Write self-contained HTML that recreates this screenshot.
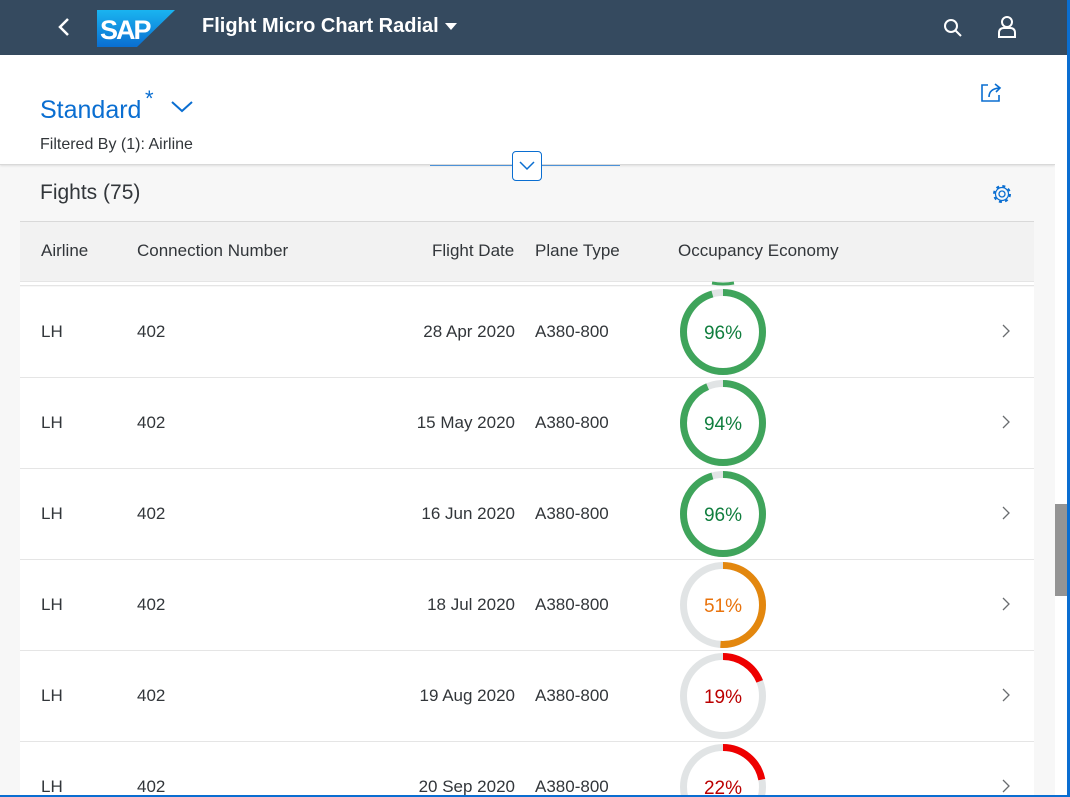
<!DOCTYPE html>
<html style="width:1070px;height:797px;overflow:hidden"><head><meta charset="utf-8"><style>
*{margin:0;padding:0;box-sizing:border-box}
body{width:1070px;height:797px;overflow:hidden;background:#f7f7f7;font-family:"Liberation Sans",sans-serif;position:relative}
.a{position:absolute}
.hdr{left:0;top:0;width:1070px;height:55px;background:#354a5f}
.t{font-size:17px;color:#32363a}
.row{position:absolute;left:20px;width:1014px;height:91px;background:#fff;border-bottom:1px solid #e5e5e5}
.row span{position:absolute;top:35px;font-size:17px;color:#32363a}
</style></head><body>
<div class="a hdr"></div>
<svg class="a" style="left:55px;top:16px" width="16" height="22"><path d="M13 3 L5 11 L13 19" stroke="#fff" stroke-width="2.5" fill="none"/></svg>
<svg class="a" style="left:97px;top:10px" width="78" height="37"><defs><linearGradient id="g" x1="0" y1="0" x2="0" y2="1"><stop offset="0" stop-color="#1ab4f0"/><stop offset="1" stop-color="#0a6ed1"/></linearGradient></defs><polygon points="0,0 78,0 40,37 0,37" fill="url(#g)"/><text x="3" y="29" font-family="Liberation Sans" font-weight="bold" font-size="27" fill="#fff" letter-spacing="-2">SAP</text></svg>
<div class="a" style="left:202px;top:15px;color:#fff;font-size:20px;font-weight:bold">Flight Micro Chart Radial</div>
<svg class="a" style="left:444px;top:22px" width="14" height="10"><polygon points="1,1 13,1 7,8" fill="#fff"/></svg>
<svg class="a" style="left:942px;top:17px" width="22" height="22"><circle cx="9" cy="9" r="6" stroke="#fff" stroke-width="2" fill="none"/><line x1="13.5" y1="13.5" x2="19" y2="19" stroke="#fff" stroke-width="2"/></svg>
<svg class="a" style="left:996px;top:15px" width="22" height="24"><circle cx="11" cy="7" r="5" stroke="#fff" stroke-width="2" fill="none"/><path d="M3 22 V18 Q3 13 8 13 H14 Q19 13 19 18 V22 Z" stroke="#fff" stroke-width="2" fill="none"/></svg>
<div class="a" style="left:0;top:55px;width:1055px;height:110px;background:#fff;border-bottom:1px solid #d9d9d9;box-shadow:0 1px 2px rgba(0,0,0,.1)"></div>
<div class="a" style="left:40px;top:96px;font-size:25px;color:#0a6ed1">Standard</div>
<div class="a" style="left:145px;top:86px;font-size:22px;color:#0a6ed1">*</div>
<svg class="a" style="left:170px;top:100px" width="24" height="14"><path d="M2 2 L12 11 L22 2" stroke="#0a6ed1" stroke-width="2" fill="none"/></svg>
<div class="a" style="left:40px;top:136px;font-size:16px;color:#32363a">Filtered By (1): Airline</div>
<svg class="a" style="left:980px;top:81px" width="24" height="22"><path d="M8 4 H2 V20 H19 V14" stroke="#0a6ed1" stroke-width="1.6" fill="none"/><path d="M9 16 Q9 8 19 7 M15 3 L20 7 L16 11" stroke="#0a6ed1" stroke-width="1.6" fill="none"/></svg>
<div class="a" style="left:430px;top:165px;width:190px;height:1px;background:#0a6ed1;opacity:.7"></div>
<div class="a" style="left:512px;top:151px;width:30px;height:30px;background:#fff;border:1px solid #0a6ed1;border-radius:4px"></div>
<svg class="a" style="left:518px;top:160px" width="18" height="12"><path d="M2 2 L9 9 L16 2" stroke="#0a6ed1" stroke-width="1.5" fill="none"/></svg>
<div class="a" style="left:40px;top:181px;font-size:21px;color:#32363a">Fights (75)</div>
<svg class="a" style="left:991px;top:183px" width="22" height="22"><circle cx="11" cy="11" r="3" stroke="#0a6ed1" stroke-width="1.3" fill="none"/><circle cx="11" cy="11" r="8" stroke="#0a6ed1" stroke-width="2" fill="none" stroke-dasharray="3 3.3"/><circle cx="11" cy="11" r="6.5" stroke="#0a6ed1" stroke-width="1.2" fill="none"/></svg>
<div class="a" style="left:20px;top:221px;width:1014px;height:61px;background:#f2f2f2;border-top:1px solid #d9d9d9;border-bottom:1px solid #e5e5e5"></div>
<div class="a t" style="left:41px;top:241px">Airline</div>
<div class="a t" style="left:137px;top:241px">Connection Number</div>
<div class="a t" style="left:432px;top:241px">Flight Date</div>
<div class="a t" style="left:535px;top:241px">Plane Type</div>
<div class="a t" style="left:678px;top:241px">Occupancy Economy</div>
<div class="a" style="left:20px;top:282px;width:1014px;height:4px;background:#fff;border-bottom:1px solid #e5e5e5"></div>
<div class="row" style="top:287px"><span style="left:21px">LH</span><span style="left:117px">402</span><span style="right:519px">28 Apr 2020</span><span style="left:515px">A380-800</span></div>
<div class="row" style="top:378px"><span style="left:21px">LH</span><span style="left:117px">402</span><span style="right:519px">15 May 2020</span><span style="left:515px">A380-800</span></div>
<div class="row" style="top:469px"><span style="left:21px">LH</span><span style="left:117px">402</span><span style="right:519px">16 Jun 2020</span><span style="left:515px">A380-800</span></div>
<div class="row" style="top:560px"><span style="left:21px">LH</span><span style="left:117px">402</span><span style="right:519px">18 Jul 2020</span><span style="left:515px">A380-800</span></div>
<div class="row" style="top:651px"><span style="left:21px">LH</span><span style="left:117px">402</span><span style="right:519px">19 Aug 2020</span><span style="left:515px">A380-800</span></div>
<div class="row" style="top:742px;height:55px;border-bottom:none"><span style="left:21px">LH</span><span style="left:117px">402</span><span style="right:519px">20 Sep 2020</span><span style="left:515px">A380-800</span></div>
<svg class="a" style="left:0;top:0" width="1070" height="797">
<g font-family="Liberation Sans" font-size="19" text-anchor="middle" fill="none" stroke-width="7">
<path d="M712 283 Q723 285 734 283" stroke="#3fa45b" stroke-width="3"/>
<g transform="translate(723,332)"><circle r="39.5" stroke="#e1e4e5"/><circle r="39.5" stroke="#3fa45b" stroke-dasharray="237 300" transform="rotate(-90)"/><text y="7" fill="#107e3e" stroke="none">96%</text></g>
<g transform="translate(723,423)"><circle r="39.5" stroke="#e1e4e5"/><circle r="39.5" stroke="#3fa45b" stroke-dasharray="232 300" transform="rotate(-90)"/><text y="7" fill="#107e3e" stroke="none">94%</text></g>
<g transform="translate(723,514)"><circle r="39.5" stroke="#e1e4e5"/><circle r="39.5" stroke="#3fa45b" stroke-dasharray="237 300" transform="rotate(-90)"/><text y="7" fill="#107e3e" stroke="none">96%</text></g>
<g transform="translate(723,605)"><circle r="39.5" stroke="#e1e4e5"/><circle r="39.5" stroke="#e3870e" stroke-dasharray="126.5 300" transform="rotate(-90)"/><text y="7" fill="#e9730c" stroke="none">51%</text></g>
<g transform="translate(723,696)"><circle r="39.5" stroke="#e1e4e5"/><circle r="39.5" stroke="#e00" stroke-dasharray="47 300" transform="rotate(-90)"/><text y="7" fill="#bb0000" stroke="none">19%</text></g>
<g transform="translate(723,787)"><circle r="39.5" stroke="#e1e4e5"/><circle r="39.5" stroke="#e00" stroke-dasharray="54.5 300" transform="rotate(-90)"/><text y="7" fill="#bb0000" stroke="none">22%</text></g>
</g>
<g stroke="#6a6d70" stroke-width="1.3" fill="none">
<path d="M1003 325 L1009 331 L1003 337"/><path d="M1003 416 L1009 422 L1003 428"/><path d="M1003 507 L1009 513 L1003 519"/><path d="M1003 598 L1009 604 L1003 610"/><path d="M1003 689 L1009 695 L1003 701"/><path d="M1003 780 L1009 786 L1003 792"/>
</g>
</svg>
<div class="a" style="left:1055px;top:55px;width:12px;height:742px;background:#fff"></div>
<div class="a" style="left:1055px;top:504px;width:12px;height:92px;background:#949494"></div>
<div class="a" style="left:1067px;top:0;width:3px;height:797px;background:#0a6ed1"></div>
<div class="a" style="left:0;top:795px;width:1070px;height:2px;background:#0a6ed1"></div>
</body></html>
